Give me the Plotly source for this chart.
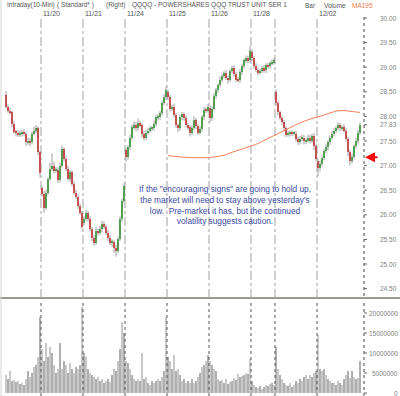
import plotly.graph_objects as go

# ---------------- data ----------------
day_names = ["11/19", "11/20", "11/21", "11/24", "11/25", "11/26", "11/28", "12/01", "12/02"]
day_labels_shown = ["", "11/20", "11/21", "11/24", "11/25", "11/26", "11/28", "", "12/02"]

day_open = [28.43, 26.55, 25.84, 27.31, 28.49, 28.18, 29.30, 28.49, 27.10]

close_1119 = [28.20, 28.12, 28.08, 27.84, 27.69, 27.67, 27.63, 27.65, 27.69, 27.65, 27.47, 27.51, 27.47, 27.65, 27.71, 27.76, 27.27, 26.84]
close_1120 = [26.43, 26.14, 26.45, 26.73, 26.94, 27.00, 26.90, 26.92, 26.71, 27.00, 27.33, 27.14, 26.94, 26.73, 26.86, 26.63, 26.45, 26.37, 26.18, 26.04, 25.76]
close_1121 = [25.92, 26.04, 25.92, 25.71, 25.53, 25.43, 25.67, 25.63, 25.71, 25.82, 25.76, 25.63, 25.53, 25.43, 25.45, 25.33, 25.27, 25.51, 25.92, 26.29, 26.59]
close_1124 = [27.18, 27.37, 27.57, 27.78, 27.82, 27.76, 27.86, 27.82, 27.65, 27.57, 27.67, 27.71, 27.76, 27.76, 27.84, 27.98, 27.98, 28.06, 28.28, 28.39, 28.53]
close_1125 = [28.39, 28.16, 28.20, 28.02, 27.82, 27.76, 27.98, 28.04, 27.96, 27.82, 27.78, 27.67, 27.76, 27.92, 27.80, 27.67, 27.74, 27.98, 28.14, 28.12, 28.20]
close_1126 = [27.96, 28.16, 28.41, 28.53, 28.63, 28.75, 28.82, 28.88, 28.78, 28.75, 28.92, 28.98, 28.86, 28.75, 28.73, 28.90, 29.02, 29.14, 29.18, 29.14, 29.33]
close_1128 = [29.18, 29.02, 28.94, 28.90, 28.92, 28.98, 28.94, 29.04, 29.02, 29.08, 29.10, 29.14]
close_1201 = [28.27, 28.08, 27.96, 27.88, 27.76, 27.63, 27.65, 27.67, 27.65, 27.65, 27.55, 27.47, 27.55, 27.57, 27.49, 27.51, 27.57, 27.51, 27.61, 27.39, 27.14]
close_1202 = [26.96, 27.04, 27.16, 27.29, 27.37, 27.47, 27.57, 27.65, 27.71, 27.76, 27.82, 27.76, 27.78, 27.71, 27.55, 27.27, 27.10, 27.18, 27.39, 27.51, 27.67, 27.83]

# wick extent above / below the body, in cents
wick_hi_1119 = [8, 4, 5, 3, 6, 4, 5, 6, 4, 5, 4, 6, 5, 4, 8, 6, 4, 3]
wick_lo_1119 = [3, 5, 4, 6, 5, 8, 4, 5, 6, 4, 7, 5, 8, 4, 3, 5, 6, 8]
wick_hi_1120 = [4, 5, 6, 4, 12, 25, 8, 5, 4, 6, 8, 4, 5, 6, 5, 4, 5, 6, 4, 5, 4]
wick_lo_1120 = [6, 10, 4, 5, 4, 5, 6, 4, 6, 5, 4, 6, 5, 4, 7, 5, 4, 5, 6, 4, 6]
wick_hi_1121 = [5, 6, 4, 5, 4, 6, 8, 5, 7, 6, 5, 4, 5, 6, 5, 4, 6, 5, 6, 4, 5]
wick_lo_1121 = [5, 4, 6, 5, 7, 6, 4, 5, 4, 6, 5, 4, 6, 5, 8, 10, 12, 5, 4, 6, 5]
wick_hi_1124 = [6, 5, 6, 5, 8, 6, 10, 5, 4, 6, 5, 6, 5, 4, 8, 5, 6, 5, 4, 6, 8]
wick_lo_1124 = [10, 6, 5, 4, 5, 6, 5, 4, 8, 6, 5, 4, 5, 6, 5, 4, 6, 5, 4, 5, 6]
wick_hi_1125 = [6, 5, 4, 6, 5, 4, 6, 5, 4, 6, 5, 4, 6, 8, 5, 4, 6, 5, 6, 4, 5]
wick_lo_1125 = [5, 6, 5, 4, 6, 8, 5, 6, 5, 4, 6, 8, 5, 4, 6, 5, 4, 5, 6, 5, 4]
wick_hi_1126 = [4, 5, 6, 5, 4, 6, 5, 4, 6, 5, 4, 5, 6, 4, 5, 6, 5, 4, 6, 5, 10]
wick_lo_1126 = [8, 5, 4, 6, 5, 4, 6, 5, 4, 8, 5, 4, 6, 5, 4, 5, 6, 4, 5, 6, 5]
wick_hi_1128 = [5, 4, 6, 5, 4, 5, 6, 4, 5, 4, 6, 5]
wick_lo_1128 = [6, 5, 4, 6, 5, 4, 5, 6, 4, 5, 4, 5]
wick_hi_1201 = [6, 5, 4, 6, 5, 4, 6, 5, 4, 5, 6, 4, 5, 6, 5, 4, 6, 5, 4, 5, 6]
wick_lo_1201 = [5, 6, 4, 5, 6, 5, 4, 6, 5, 4, 6, 5, 4, 5, 6, 5, 4, 6, 5, 8, 6]
wick_hi_1202 = [4, 6, 5, 4, 6, 5, 4, 6, 5, 4, 6, 5, 4, 6, 5, 4, 5, 6, 4, 5, 6, 5]
wick_lo_1202 = [18, 8, 6, 5, 4, 6, 5, 4, 6, 5, 4, 6, 5, 4, 6, 8, 10, 6, 5, 4, 6, 5]

# volume, millions of shares
vol_1119 = [4.5, 3.5, 5.5, 3.0, 3.2, 2.8, 3.0, 2.2, 2.5, 2.0, 3.5, 5.5, 4.0, 5.0, 6.5, 7.0, 9.0, 19.0]
vol_1120 = [11.0, 8.0, 12.5, 9.0, 11.5, 10.0, 7.0, 5.0, 6.0, 12.5, 6.0, 8.0, 7.0, 5.0, 7.5, 6.0, 5.0, 6.5, 6.0, 7.0, 21.5]
vol_1121 = [10.0, 9.0, 6.0, 5.0, 4.5, 4.0, 3.5, 4.0, 3.0, 3.5, 2.5, 3.0, 3.5, 2.8, 4.5, 6.0, 5.5, 8.0, 11.0, 17.7, 15.0]
vol_1124 = [8.0, 7.5, 6.0, 4.5, 3.5, 3.0, 3.5, 3.0, 10.0, 3.5, 4.0, 2.5, 2.0, 3.0, 2.5, 3.0, 3.5, 3.0, 4.0, 5.5, 19.0]
vol_1125 = [9.0, 8.0, 6.0, 9.5, 5.5, 6.0, 4.5, 3.0, 3.5, 2.5, 3.0, 2.5, 3.5, 2.5, 3.0, 4.0, 5.0, 6.5, 7.0, 8.0, 9.5]
vol_1126 = [8.0, 7.0, 6.0, 5.5, 3.5, 3.0, 3.2, 2.5, 3.5, 2.2, 2.8, 3.0, 3.8, 3.2, 4.8, 4.0, 4.2, 4.5, 5.0, 4.8, 8.5]
vol_1128 = [3.0, 2.0, 1.5, 1.2, 1.8, 1.0, 1.5, 2.0, 1.8, 2.2, 2.5, 2.0]
vol_1201 = [11.5, 6.0, 4.5, 3.5, 2.5, 2.0, 1.8, 2.5, 1.5, 2.0, 3.0, 2.5, 3.5, 3.0, 4.0, 4.5, 3.5, 4.5, 4.0, 5.0, 5.5]
vol_1202 = [14.5, 6.0, 5.5, 6.0, 4.5, 3.5, 3.0, 2.5, 2.5, 2.0, 3.0, 2.5, 2.0, 3.5, 4.5, 5.5, 3.8, 5.5, 4.0, 3.5, 3.8, 8.0]

# MA195 values at selected bars
ma_bar = list(range(81, 178, 4))
ma_195 = [27.20, 27.18, 27.17, 27.16, 27.16, 27.16, 27.18, 27.21, 27.27, 27.32, 27.37, 27.43, 27.51,
          27.59, 27.67, 27.76, 27.83, 27.90, 27.96, 28.00, 28.06, 28.11, 28.12, 28.10, 28.08]

price_ticks = [30.00, 29.50, 29.00, 28.50, 28.00, 27.83, 27.50, 27.00, 26.50, 26.00, 25.50, 25.00, 24.50]
volume_ticks = [0, 5000000, 10000000, 15000000, 20000000]
arrow_price = 27.17

header_parts = ["Intraday(10-Min)", "( Standard* )", "(Right)", "QQQQ - POWERSHARES QQQ TRUST UNIT SER 1", "Bar", "Volume"]
ma_label = "MA195"
note_text = ('If the "encouraging signs" are going to hold up,<br>the market will need to stay above yesterday\'s'
             '<br>low.  Pre-market it has, but the continued<br>volatility suggests caution.')

# ---------------- build OHLC ----------------
closes_by_day = [close_1119, close_1120, close_1121, close_1124, close_1125, close_1126, close_1128, close_1201, close_1202]
hi_by_day = [wick_hi_1119, wick_hi_1120, wick_hi_1121, wick_hi_1124, wick_hi_1125, wick_hi_1126, wick_hi_1128, wick_hi_1201, wick_hi_1202]
lo_by_day = [wick_lo_1119, wick_lo_1120, wick_lo_1121, wick_lo_1124, wick_lo_1125, wick_lo_1126, wick_lo_1128, wick_lo_1201, wick_lo_1202]
vol_by_day = [vol_1119, vol_1120, vol_1121, vol_1124, vol_1125, vol_1126, vol_1128, vol_1201, vol_1202]

opens, closes, highs, lows, vols = [], [], [], [], []
day_start = []
for d, cl in enumerate(closes_by_day):
    day_start.append(len(closes))
    prev = day_open[d]
    for j, c in enumerate(cl):
        o = prev
        opens.append(o)
        closes.append(c)
        highs.append(max(o, c) + hi_by_day[d][j] / 100)
        lows.append(min(o, c) - lo_by_day[d][j] / 100)
        prev = c
    vols.extend(v * 1e6 for v in vol_by_day[d])
N = len(closes)
bars = list(range(N))
boundaries = [s - 0.5 for s in day_start[1:]]

W, H = 400, 396
def py(p):
    return 1 - p / H
def pxx(p):
    return p / W

fig = go.Figure()

# wicks
wx, wy = [], []
for k in bars:
    wx += [k, k, None]
    wy += [lows[k], highs[k], None]
fig.add_trace(go.Scatter(x=wx, y=wy, mode="lines", line=dict(color="#a0a0a0", width=1),
                         hoverinfo="skip", yaxis="y"))

up = [k for k in bars if closes[k] >= opens[k]]
dn = [k for k in bars if closes[k] < opens[k]]
fig.add_trace(go.Bar(x=up, y=[max(abs(closes[k] - opens[k]), 0.02) for k in up],
                     base=[min(opens[k], closes[k]) for k in up],
                     marker=dict(color="#0a9e0a", line=dict(width=0)), width=1.0, yaxis="y"))
fig.add_trace(go.Bar(x=dn, y=[max(abs(closes[k] - opens[k]), 0.02) for k in dn],
                     base=[min(opens[k], closes[k]) for k in dn],
                     marker=dict(color="#e80000", line=dict(width=0)), width=1.0, yaxis="y"))

# MA195
fig.add_trace(go.Scatter(x=ma_bar, y=ma_195, mode="lines", line=dict(color="#f4825a", width=1),
                         hoverinfo="skip", yaxis="y"))

# volume
fig.add_trace(go.Bar(x=bars, y=vols, width=1.0,
                     marker=dict(color=["#b0b0b0" if k % 2 else "#c8c8c8" for k in bars], line=dict(width=0)),
                     yaxis="y2"))

shapes = []
# day dividers
for b in boundaries:
    shapes.append(dict(type="line", xref="x", yref="paper", x0=b, x1=b, y0=py(298), y1=py(17),
                       line=dict(color="#a0a0a0", width=1, dash="dashdot"), layer="below"))
    shapes.append(dict(type="line", xref="x", yref="paper", x0=b, x1=b, y0=py(396), y1=py(300),
                       line=dict(color="#555555", width=1, dash="dot"), layer="above"))
# right axis dotted lines
shapes.append(dict(type="line", xref="paper", yref="paper", x0=pxx(364), x1=pxx(364), y0=py(296), y1=py(16),
                   line=dict(color="#444444", width=1, dash="dot")))
shapes.append(dict(type="line", xref="paper", yref="paper", x0=pxx(364), x1=pxx(364), y0=py(396), y1=py(303),
                   line=dict(color="#444444", width=1, dash="dot")))
for t in price_ticks:
    shapes.append(dict(type="line", xref="paper", yref="y", x0=pxx(364), x1=pxx(367), y0=t, y1=t,
                       line=dict(color="#666666", width=1)))
for t in volume_ticks:
    shapes.append(dict(type="line", xref="paper", yref="y2", x0=pxx(364), x1=pxx(367), y0=t, y1=t,
                       line=dict(color="#666666", width=1)))
# panel separator and left border
shapes.append(dict(type="line", xref="paper", yref="paper", x0=0, x1=1, y0=py(298), y1=py(298),
                   line=dict(color="#9a9a94", width=2)))
shapes.append(dict(type="line", xref="paper", yref="paper", x0=pxx(1), x1=pxx(1), y0=0, y1=1,
                   line=dict(color="#d4d4d4", width=1)))

annotations = []
head_font = dict(family="Liberation Sans", size=6.5, color="#555555")
head_x = [5, 55, 104, 130, 303, 322]
for txt, x in zip(header_parts, head_x):
    annotations.append(dict(text=txt, xref="paper", yref="paper", x=pxx(x), y=py(5), xanchor="left",
                            yanchor="middle", showarrow=False, font=head_font))
annotations.append(dict(text=ma_label, xref="paper", yref="paper", x=pxx(350), y=py(5), xanchor="left",
                        yanchor="middle", showarrow=False,
                        font=dict(family="Liberation Sans", size=6.5, color="#f07850")))
date_font = dict(family="Liberation Sans", size=7, color="#555555")
for s, lab in zip(day_start, day_labels_shown):
    if lab:
        annotations.append(dict(text=lab, xref="x", yref="paper", x=s - 0.5, y=py(13), xanchor="left",
                                yanchor="middle", showarrow=False, font=date_font))
annotations.append(dict(text=note_text, xref="paper", yref="paper", x=pxx(225), y=py(205), xanchor="center",
                        yanchor="middle", showarrow=False, align="center",
                        font=dict(family="Liberation Sans", size=8.3, color="#3b4aa0")))
annotations.append(dict(text="", xref="paper", yref="y", x=pxx(365), y=arrow_price, ax=14, ay=0,
                        showarrow=True, arrowhead=2, arrowsize=1, arrowwidth=2, arrowcolor="#ff0000"))

tickfont = dict(family="Liberation Sans", size=6.5, color="#808080")
for t in price_ticks:
    annotations.append(dict(text="%.2f" % t, xref="paper", yref="y", x=pxx(399), y=t, xanchor="right",
                            yanchor="middle", showarrow=False, font=tickfont))
for t in volume_ticks:
    annotations.append(dict(text=str(t), xref="paper", yref="y2", x=pxx(400), y=t, xanchor="right",
                            yanchor="middle", showarrow=False, font=tickfont))

fig.update_layout(
    width=W, height=H, margin=dict(l=0, r=0, t=0, b=0),
    paper_bgcolor="white", plot_bgcolor="white", showlegend=False, barmode="overlay",
    bargap=0,
    xaxis=dict(domain=[0, pxx(364)], range=[-3, 179], visible=False, anchor="y2"),
    yaxis=dict(domain=[py(298), 1], range=[30 - 280 / 49.2, 30 + 18 / 49.2], visible=False),
    yaxis2=dict(domain=[0, py(300)], range=[-0.75e6, 23.25e6], visible=False),
    shapes=shapes, annotations=annotations,
)

fig.write_html("out.html", config={"displayModeBar": False},
               post_script="document.body.style.margin='0';document.body.style.padding='0';"
                           "document.documentElement.style.overflow='hidden';")
